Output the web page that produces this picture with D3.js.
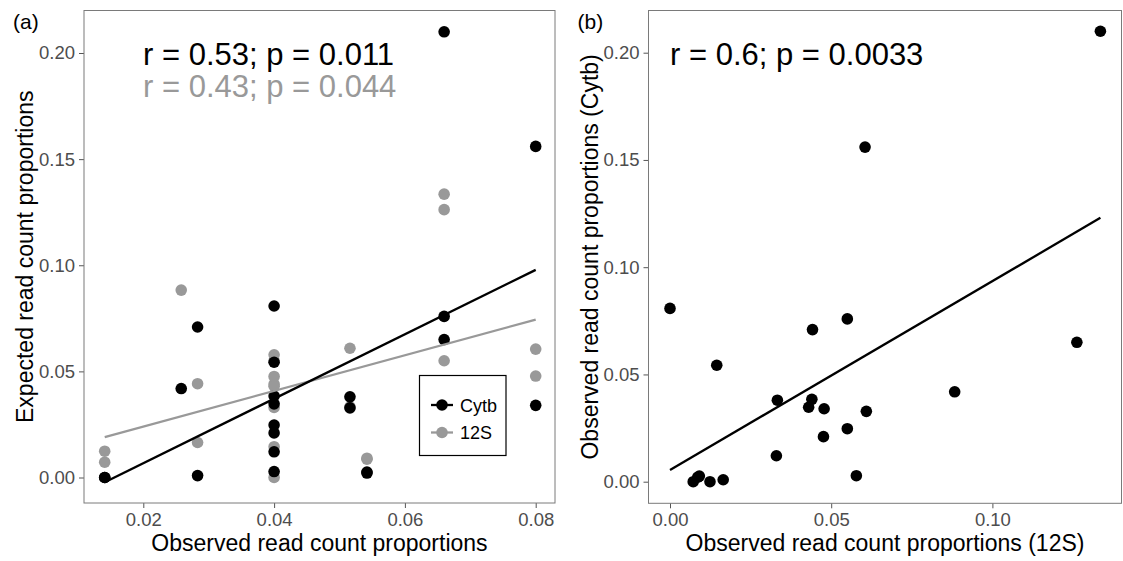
<!DOCTYPE html>
<html>
<head>
<meta charset="utf-8">
<script src="https://cdn.jsdelivr.net/npm/d3@7"></script>
<style>
  html, body { margin: 0; padding: 0; background: #fff; }
  svg { display: block; font-family: "Liberation Sans", Arial, Helvetica, sans-serif; }
</style>
</head>
<body>
<svg id="chart" width="1123" height="561"></svg>
<script>
// ---- data (one entry per taxon) ----
const taxa = ["t1","t2","t3","t4","t5","t6","t7","t8","t9","t10","t11","t12","t13","t14","t15","t16","t17","t18","t19","t20","t21","t22"];
// panel (a) x values: observed read count proportions
const observedA = [0.066, 0.080, 0.040, 0.066, 0.0283, 0.066, 0.040, 0.0258, 0.0516, 0.040, 0.040,
                   0.080, 0.0516, 0.040, 0.040, 0.040, 0.040, 0.0542, 0.0141, 0.0141, 0.0283, 0.0542];
// Cytb read count proportions (panel a black y, panel b y)
const cytb = [0.210, 0.156, 0.0808, 0.0759, 0.0709, 0.0650, 0.0543, 0.0419, 0.0380, 0.0384, 0.0347,
              0.0340, 0.0328, 0.0247, 0.0210, 0.0121, 0.0028, 0.0026, 0.0000, 0.0000, 0.0009, 0.0021];
// 12S read count proportions (panel a grey y, panel b x)
const s12 = [0.1335, 0.0605, 0.0000, 0.0550, 0.0442, 0.1262, 0.0145, 0.0883, 0.0333, 0.0440, 0.0430,
             0.0478, 0.0609, 0.0550, 0.0476, 0.0330, 0.0578, 0.0091, 0.0072, 0.0124, 0.0165, 0.0086];

const markers = ["Cytb", "12S"];
const markerColors = ["#000000", "#999999"];
const ticksAx = [0.02, 0.04, 0.06, 0.08];
const ticksBx = [0.00, 0.05, 0.10];
const ticksY = [0.00, 0.05, 0.10, 0.15, 0.20];
const statsA = ["r = 0.53; p = 0.011", "r = 0.43; p = 0.044"];
const statsB = ["r = 0.6; p = 0.0033"];

// ---- helpers ----
function lm(xs, ys) {
  const n = xs.length;
  const mx = d3.mean(xs), my = d3.mean(ys);
  let sxy = 0, sxx = 0;
  for (let i = 0; i < n; i++) { sxy += (xs[i]-mx)*(ys[i]-my); sxx += (xs[i]-mx)**2; }
  const b = sxy / sxx;
  return { a: my - b*mx, b: b };
}

const svg = d3.select("#chart");
const fmt = d3.format(".2f");

function panel(cfg) {
  const g = svg.append("g");
  const x = d3.scaleLinear().domain(cfg.xDom).range([cfg.left, cfg.right]);
  const y = d3.scaleLinear().domain(cfg.yDom).range([cfg.bottom, cfg.top]);

  // axes
  const xAxis = d3.axisBottom(x).tickValues(cfg.xTicks).tickFormat(fmt).tickSize(5).tickPadding(5);
  const yAxis = d3.axisLeft(y).tickValues(ticksY).tickFormat(fmt).tickSize(5).tickPadding(4);
  const gx = g.append("g").attr("transform", `translate(0,${cfg.bottom})`).call(xAxis);
  const gy = g.append("g").attr("transform", `translate(${cfg.left},0)`).call(yAxis);
  [gx, gy].forEach(a => {
    a.select(".domain").remove();
    a.selectAll(".tick line").attr("stroke", "#555").attr("stroke-width", 1);
    a.selectAll(".tick text").attr("fill", "#4d4d4d").style("font-size", "18.5px");
  });

  // panel border
  g.append("rect").attr("x", cfg.left).attr("y", cfg.top)
    .attr("width", cfg.right - cfg.left).attr("height", cfg.bottom - cfg.top)
    .attr("fill", "none").attr("stroke", "#7a7a7a").attr("stroke-width", 1);

  // series
  cfg.series.forEach(s => {
    g.append("g").selectAll("circle").data(s.xs.map((d,i)=>[d, s.ys[i]])).join("circle")
      .attr("cx", d => x(d[0])).attr("cy", d => y(d[1])).attr("r", 5.8).attr("fill", s.color);
  });
  cfg.series.forEach(s => {
    const f = lm(s.xs, s.ys);
    const x0 = d3.min(s.xs), x1 = d3.max(s.xs);
    g.append("line").attr("x1", x(x0)).attr("y1", y(f.a + f.b*x0))
      .attr("x2", x(x1)).attr("y2", y(f.a + f.b*x1))
      .attr("stroke", s.color).attr("stroke-width", 2.3);
  });

  // stats text
  cfg.stats.forEach((t, i) => {
    g.append("text").attr("x", cfg.statX).attr("y", 65 + i*31.5)
      .attr("fill", cfg.statColors[i]).style("font-size", "31px").text(t);
  });

  // titles
  g.append("text").attr("x", (cfg.left + cfg.right)/2).attr("y", 551)
    .attr("text-anchor", "middle").style("font-size", "23px").text(cfg.xTitle);
  g.append("text").attr("transform", `translate(${cfg.left - 51},${(cfg.top + cfg.bottom)/2}) rotate(-90)`)
    .attr("text-anchor", "middle").style("font-size", "23px").text(cfg.yTitle);
  g.append("text").attr("x", cfg.left - 71).attr("y", 29).style("font-size", "21px").text(cfg.tag);
  return { g, x, y };
}

const pa = panel({
  left: 84, right: 555, top: 10.5, bottom: 503,
  xDom: [0.02 - (143.3-84)/6540, 0.08 + (555-535.7)/6540],
  yDom: [-(503-477.5)/2122.5, 0.2 + (53-10.5)/2122.5],
  xTicks: ticksAx,
  series: [
    { xs: observedA, ys: s12, color: markerColors[1] },
    { xs: observedA, ys: cytb, color: markerColors[0] }
  ],
  stats: statsA, statColors: ["#000000", "#999999"], statX: 143,
  xTitle: "Observed read count proportions",
  yTitle: "Expected read count proportions",
  tag: "(a)"
});

const pb = panel({
  left: 648.5, right: 1121.5, top: 10.5, bottom: 503.3,
  xDom: [-(670-648.5)/3224, (1121.5-670)/3224],
  yDom: [-(503.3-481.7)/2145, 0.2 + (52.7-10.5)/2145],
  xTicks: ticksBx,
  series: [ { xs: s12, ys: cytb, color: markerColors[0] } ],
  stats: statsB, statColors: ["#000000"], statX: 670,
  xTitle: "Observed read count proportions (12S)",
  yTitle: "Observed read count proportions (Cytb)",
  tag: "(b)"
});

// legend in panel (a)
const lg = svg.append("g");
lg.append("rect").attr("x", 419.5).attr("y", 375.5).attr("width", 86.5).attr("height", 80)
  .attr("fill", "#fff").attr("stroke", "#000").attr("stroke-width", 1.2);
markers.forEach((m, i) => {
  const yy = 405 + i*27.5;
  lg.append("line").attr("x1", 431).attr("x2", 453).attr("y1", yy).attr("y2", yy)
    .attr("stroke", markerColors[i]).attr("stroke-width", 2.3);
  lg.append("circle").attr("cx", 442).attr("cy", yy).attr("r", 5.8).attr("fill", markerColors[i]);
  lg.append("text").attr("x", 460).attr("y", yy + 6.5).style("font-size", "18px").text(m);
});
</script>
</body>
</html>
